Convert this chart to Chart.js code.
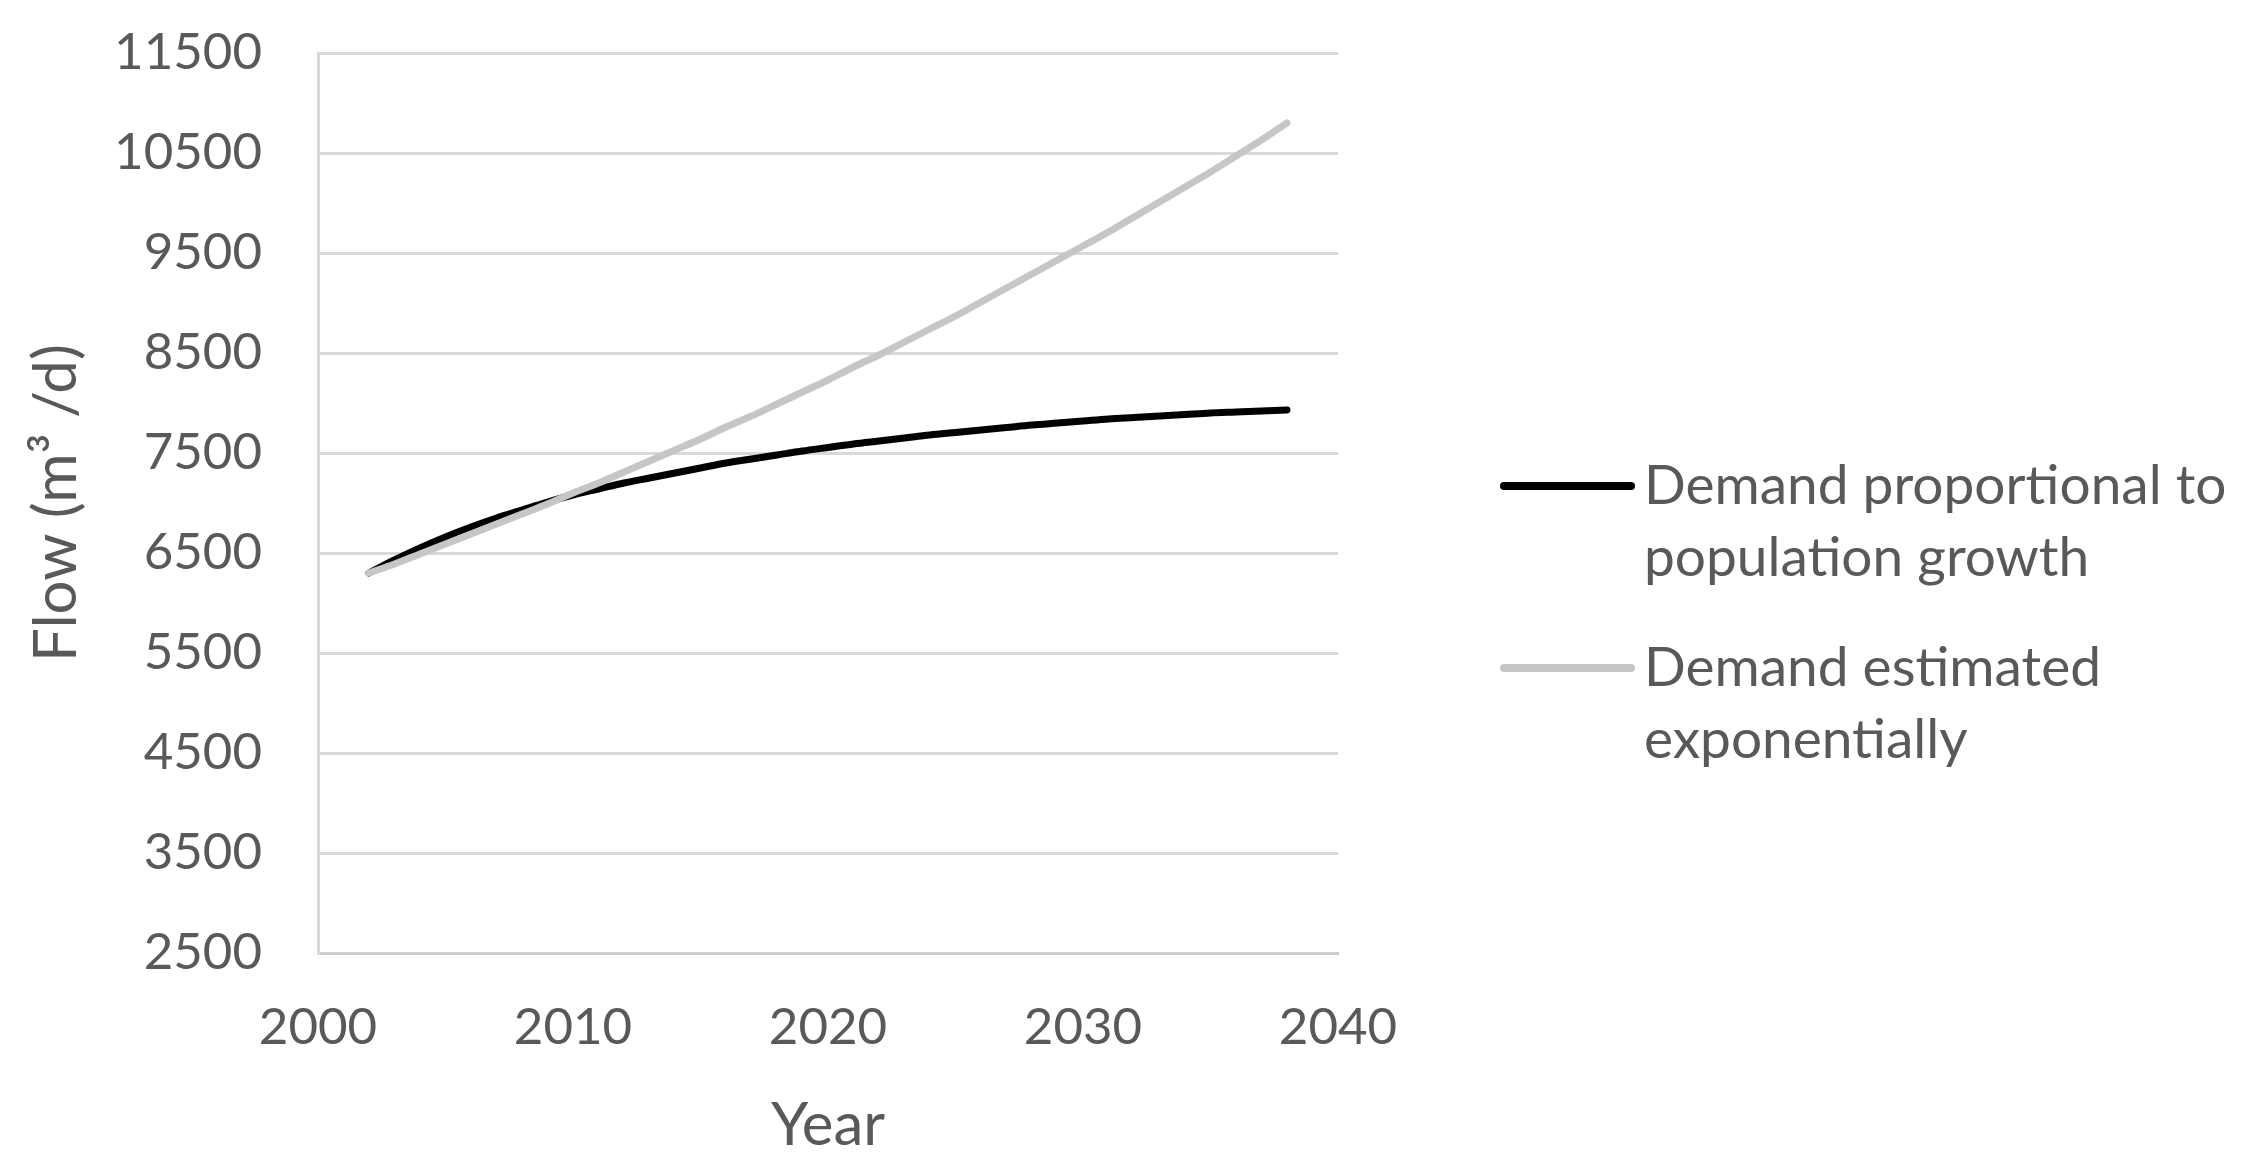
<!DOCTYPE html>
<html>
<head>
<meta charset="utf-8">
<script src="https://cdn.jsdelivr.net/npm/chart.js@4"></script>
<style>
  html, body { margin: 0; padding: 0; background: #fff; }
</style>
</head>
<body>
<canvas id="myChart" width="2247" height="1173"></canvas>
<script>
// years on the x axis
const years = [2002, 2003, 2004, 2005, 2006, 2007, 2008, 2009, 2010, 2011, 2012, 2013,
  2014, 2015, 2016, 2017, 2018, 2019, 2020, 2021, 2022, 2023, 2024, 2025, 2026, 2027,
  2028, 2029, 2030, 2031, 2032, 2033, 2034, 2035, 2036, 2037, 2038];

// flow (m3/d)
const demandPopulation = [6300, 6430, 6550, 6660, 6760, 6850, 6930, 7010, 7080, 7140, 7200, 7250,
  7300, 7350, 7400, 7440, 7480, 7520, 7555, 7590, 7620, 7650, 7680, 7705, 7730, 7755,
  7780, 7800, 7820, 7840, 7855, 7870, 7885, 7900, 7910, 7920, 7930];
const demandExponential = [6300, 6390, 6490, 6590, 6690, 6790, 6890, 6990, 7100, 7200, 7310, 7420,
  7530, 7640, 7760, 7870, 7990, 8110, 8230, 8360, 8480, 8610, 8740, 8870, 9010, 9150,
  9290, 9430, 9570, 9710, 9860, 10010, 10160, 10310, 10470, 10630, 10800];

const seriesNames = [
  ['Demand proportional to', 'population growth'],
  ['Demand estimated', 'exponentially']
];

const yearTicks = [2000, 2010, 2020, 2030, 2040];
const flowTicks = [2500, 3500, 4500, 5500, 6500, 7500, 8500, 9500, 10500, 11500];

const textColor = '#595959';
const font = 'Lato';

function toPoints(values) {
  return years.map((yr, i) => ({ x: yr, y: values[i] }));
}

// legend on the right, two lines of text per entry
const sideLegend = {
  id: 'sideLegend',
  afterDraw(chart) {
    const ctx = chart.ctx;
    const area = chart.chartArea;
    ctx.save();
    ctx.font = '55px ' + font;
    ctx.textBaseline = 'middle';
    ctx.fillStyle = textColor;
    chart.data.datasets.forEach((ds, i) => {
      const y0 = area.top + 433 + i * 182;
      ctx.strokeStyle = ds.borderColor;
      ctx.lineWidth = 8;
      ctx.lineCap = 'round';
      ctx.beginPath();
      ctx.moveTo(area.right + 166, y0);
      ctx.lineTo(area.right + 293, y0);
      ctx.stroke();
      ds.legendLines.forEach((t, j) => ctx.fillText(t, area.right + 306, y0 + j * 72));
    });
    ctx.restore();
  }
};

const data = {
  datasets: [{
    label: seriesNames[0].join(' '),
    legendLines: seriesNames[0],
    data: toPoints(demandPopulation),
    borderColor: '#000000',
    borderWidth: 7,
    borderCapStyle: 'round',
    pointRadius: 0,
    cubicInterpolationMode: 'monotone',
    order: 1
  }, {
    label: seriesNames[1].join(' '),
    legendLines: seriesNames[1],
    data: toPoints(demandExponential),
    borderColor: '#c6c6c6',
    borderWidth: 7,
    borderCapStyle: 'round',
    pointRadius: 0,
    cubicInterpolationMode: 'monotone',
    order: 0
  }]
};

const config = {
  type: 'line',
  data: data,
  plugins: [sideLegend],
  options: {
    responsive: false,
    animation: false,
    layout: { padding: { left: 0, right: 909, top: 53, bottom: 0 } },
    plugins: {
      legend: { display: false },
      tooltip: { enabled: false }
    },
    scales: {
      x: {
        type: 'linear',
        min: 2000,
        max: 2040,
        afterBuildTicks: s => { s.ticks = yearTicks.map(v => ({ value: v })); },
        afterFit: s => { s.height = 220; s.paddingLeft = 0; s.paddingRight = 0; },
        grid: { display: false, drawTicks: false },
        border: { display: true, color: '#cccccc', width: 3 },
        ticks: {
          padding: 44,
          color: textColor,
          font: { family: font, size: 51 },
          callback: v => String(v)
        },
        title: {
          display: true,
          text: 'Year',
          color: textColor,
          font: { family: font, size: 60 },
          padding: { top: 0, bottom: 11 }
        }
      },
      y: {
        min: 2500,
        max: 11500,
        afterBuildTicks: s => { s.ticks = flowTicks.map(v => ({ value: v })); },
        afterFit: s => { s.width = 318; s.paddingTop = 0; s.paddingBottom = 0; },
        grid: { color: '#d9d9d9', lineWidth: 3, drawTicks: false },
        border: { display: true, color: '#d9d9d9', width: 3 },
        ticks: {
          padding: 56,
          color: textColor,
          font: { family: font, size: 51 },
          callback: v => String(v)
        },
        title: {
          display: true,
          text: 'Flow (m³ /d)',
          color: textColor,
          font: { family: font, size: 60 },
          padding: { top: 21, bottom: 0 }
        }
      }
    }
  }
};

const myChart = new Chart(document.getElementById('myChart'), config);
</script>
</body>
</html>
